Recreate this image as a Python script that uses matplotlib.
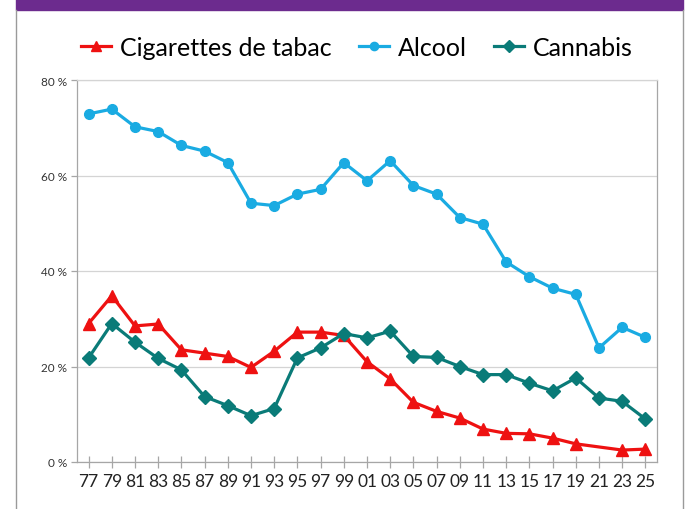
import matplotlib.pyplot as plt
import numpy as np
from matplotlib.patches import Rectangle
from matplotlib.lines import Line2D

# years (two-digit labels) 1977 -> 2025, every two years
years = ['77', '79', '81', '83', '85', '87', '89', '91', '93', '95', '97', '99',
         '01', '03', '05', '07', '09', '11', '13', '15', '17', '19', '21', '23', '25']

# percentages (tabac has no value for 21)
tabac = [29.0, 34.8, 28.5, 28.9, 23.5, 22.8, 22.1, 19.8, 23.2, 27.2, 27.2, 26.5,
         21.0, 17.4, 12.5, 10.6, 9.2, 6.9, 6.0, 5.9, 5.0, 3.8, np.nan, 2.5, 2.7]
alcool = [72.9, 73.9, 70.2, 69.2, 66.3, 65.1, 62.7, 54.2, 53.7, 56.1, 57.1, 62.7,
          58.9, 63.1, 57.9, 56.1, 51.2, 49.8, 41.9, 38.8, 36.4, 35.1, 23.9, 28.2, 26.1]
cannabis = [21.8, 29.0, 25.1, 21.7, 19.3, 13.7, 11.8, 9.7, 11.2, 21.8, 23.9, 26.9,
            26.0, 27.4, 22.1, 21.9, 20.0, 18.3, 18.3, 16.5, 14.9, 17.6, 13.4, 12.7, 9.0]

col_tabac = '#EE1111'
col_alcool = '#1AABE2'
col_cannabis = '#0A7B78'
purple = '#6C2B8E'
grey = '#A6A6A6'

plt.rcParams['font.family'] = ['Lato', 'DejaVu Sans']

fig = plt.figure(figsize=(6.88, 5.10), dpi=100)
W, H = 688.0, 510.0

# slide frame: purple band and grey side lines
fig.patches.append(Rectangle((16 / W, 1 - 11 / H), (683 - 16) / W, 11 / H,
                             transform=fig.transFigure, color=purple, zorder=0))
fig.add_artist(Line2D([16 / W, 16 / W], [0, 1 - 11 / H], transform=fig.transFigure,
                      color='#9A9A9A', lw=1))
fig.add_artist(Line2D([683 / W, 683 / W], [0, 1 - 11 / H], transform=fig.transFigure,
                      color='#9A9A9A', lw=1))

ax = fig.add_axes([77 / W, 1 - 463 / H, (657 - 77) / W, (463 - 81) / H])
x = np.arange(len(years))

t = np.array(tabac)
ok = ~np.isnan(t)
ax.plot(x[ok], t[ok], color=col_tabac, lw=2.3, marker='^', ms=8.5, zorder=3,
        label='Cigarettes de tabac')
ax.plot(x, alcool, color=col_alcool, lw=2.3, marker='o', ms=7, zorder=3, label='Alcool')
ax.plot(x, cannabis, color=col_cannabis, lw=2.3, marker='D', ms=7.5, zorder=3,
        label='Cannabis')

ax.set_xlim(-0.5, len(years) - 0.5)
ax.set_ylim(0, 80)
ax.set_xticks(x)
ax.set_xticklabels(years, fontsize=12.5, color='#222222')
ax.set_yticks([0, 20, 40, 60, 80])
ax.set_yticklabels(['0 %', '20 %', '40 %', '60 %', '80 %'], fontsize=8.5, color='#333333')
ax.tick_params(axis='y', direction='out', length=4, color=grey, width=0.9, pad=3)
ax.tick_params(axis='x', direction='inout', length=8, color=grey, width=0.9, pad=4)
ax.grid(axis='y', color='#D4D4D4', lw=0.9)
ax.set_axisbelow(True)
for s in ['left', 'bottom', 'right']:
    ax.spines[s].set_color(grey)
    ax.spines[s].set_linewidth(0.9)
ax.spines['top'].set_color('#D4D4D4')
ax.spines['top'].set_linewidth(0.9)

leg = fig.legend(loc='center', bbox_to_anchor=(357 / W, 1 - 48 / H), ncol=3,
                 frameon=False, fontsize=18, handlelength=1.2, handletextpad=0.35,
                 columnspacing=1.1, markerscale=0.85)

fig.savefig('out.png', dpi=100)
